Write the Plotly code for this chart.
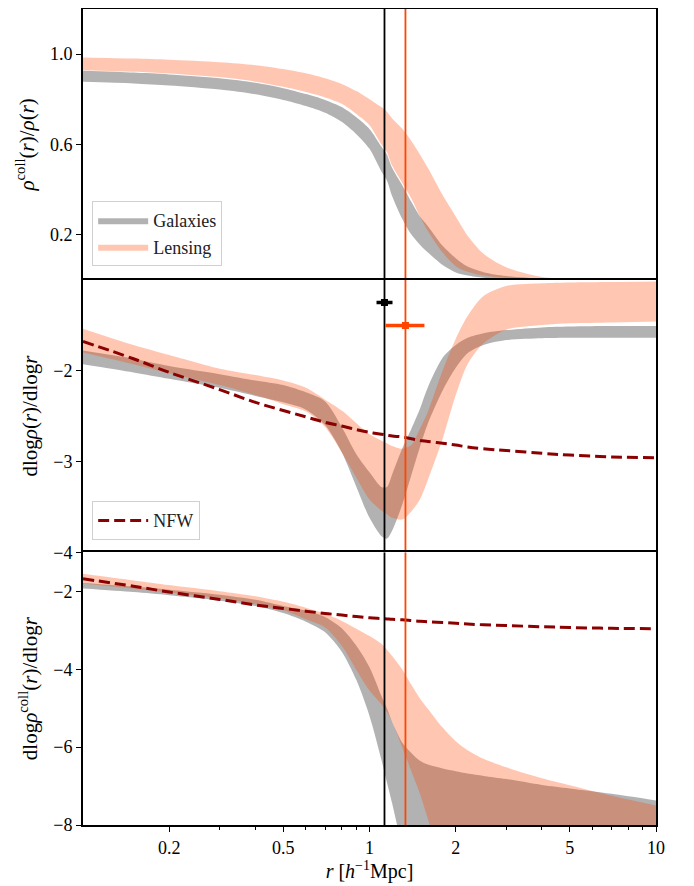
import plotly.graph_objects as go
from plotly.subplots import make_subplots

# radius grid [h^-1 Mpc]
r = [0.1, 0.15, 0.2, 0.3, 0.4, 0.5, 0.6, 0.7, 0.8, 0.9, 1.0, 1.1, 1.15, 1.2, 1.3,
     1.4, 1.5, 1.6, 1.8, 2.0, 2.2, 2.5, 3.0, 4.0, 5.0, 7.0, 10.0]

# Panel 1: rho_coll / rho
frac_gal_lo = [0.877, 0.870, 0.861, 0.843, 0.822, 0.797, 0.770, 0.740, 0.700, 0.645, 0.580, 0.480, 0.440,
               0.370, 0.270, 0.200, 0.155, 0.120, 0.065, 0.032, 0.018, 0.008, 0.002, 0.0, 0.0, 0.0, 0.0]
frac_gal_hi = [0.926, 0.918, 0.910, 0.893, 0.873, 0.849, 0.823, 0.797, 0.765, 0.720, 0.668, 0.590, 0.555,
               0.495, 0.420, 0.345, 0.280, 0.237, 0.150, 0.095, 0.058, 0.033, 0.016, 0.005, 0.002, 0.001, 0.0]
frac_len_lo = [0.929, 0.922, 0.914, 0.898, 0.878, 0.855, 0.832, 0.808, 0.780, 0.735, 0.685, 0.600, 0.565,
               0.505, 0.430, 0.360, 0.280, 0.215, 0.120, 0.060, 0.035, 0.018, 0.007, 0.001, 0.0, 0.0, 0.0]
frac_len_hi = [0.985, 0.980, 0.975, 0.964, 0.951, 0.934, 0.915, 0.893, 0.868, 0.836, 0.800, 0.765, 0.745,
               0.715, 0.670, 0.615, 0.555, 0.495, 0.375, 0.280, 0.195, 0.115, 0.055, 0.012, 0.004, 0.001, 0.0]

# Panel 2: dlog rho / dlog r
slope_gal_lo = [-1.93, -2.02, -2.09, -2.19, -2.28, -2.35, -2.43, -2.60, -2.90, -3.28, -3.62, -3.82, -3.85,
                -3.76, -3.48, -3.15, -2.84, -2.58, -2.22, -1.97, -1.81, -1.72, -1.665, -1.645, -1.64, -1.64, -1.64]
slope_gal_hi = [-1.78, -1.87, -1.95, -2.04, -2.11, -2.16, -2.24, -2.34, -2.62, -2.92, -3.12, -3.28, -3.28,
                -3.14, -2.86, -2.64, -2.42, -2.18, -1.86, -1.72, -1.64, -1.59, -1.555, -1.525, -1.515, -1.51, -1.51]
slope_len_lo = [-1.80, -1.93, -2.03, -2.16, -2.27, -2.37, -2.45, -2.62, -2.90, -3.18, -3.42, -3.54, -3.58,
                -3.62, -3.64, -3.55, -3.42, -3.20, -2.75, -2.27, -1.93, -1.70, -1.55, -1.50, -1.48, -1.47, -1.46]
slope_len_hi = [-1.54, -1.72, -1.83, -1.98, -2.05, -2.11, -2.19, -2.32, -2.44, -2.58, -2.70, -2.77, -2.80,
                -2.83, -2.86, -2.82, -2.64, -2.45, -2.00, -1.65, -1.40, -1.18, -1.07, -1.04, -1.03, -1.025, -1.02]

# Panel 3: dlog rho_coll / dlog r
cslope_gal_lo = [-1.93, -2.02, -2.10, -2.24, -2.38, -2.56, -2.78, -3.05, -3.55, -4.28, -5.20, -6.32, -6.90,
                 -7.45, -8.60, -10, -10, -10, -10, -10, -10, -10, -10, -10, -10, -10, -10]
cslope_gal_hi = [-1.79, -1.88, -1.96, -2.09, -2.22, -2.38, -2.50, -2.66, -2.95, -3.40, -3.95, -4.68, -5.00,
                 -5.35, -5.88, -6.15, -6.35, -6.45, -6.55, -6.62, -6.68, -6.74, -6.82, -6.97, -7.06, -7.20, -7.37]
cslope_len_lo = [-1.80, -1.93, -2.03, -2.18, -2.33, -2.49, -2.72, -2.93, -3.40, -4.02, -4.55, -4.90, -5.10,
                 -5.35, -6.00, -6.62, -7.20, -7.85, -9.00, -10, -10, -10, -10, -10, -10, -10, -10]
cslope_len_hi = [-1.55, -1.72, -1.84, -2.00, -2.13, -2.27, -2.42, -2.58, -2.76, -2.96, -3.15, -3.35, -3.50,
                 -3.66, -4.00, -4.40, -4.75, -5.02, -5.50, -5.85, -6.08, -6.30, -6.52, -6.80, -6.98, -7.25, -7.50]

# NFW slope
nfw_slope = [-1.68, -1.87, -2.02, -2.21, -2.35, -2.44, -2.51, -2.57, -2.61, -2.65, -2.68, -2.70, -2.71,
             -2.72, -2.73, -2.75, -2.77, -2.78, -2.80, -2.82, -2.84, -2.86, -2.88, -2.91, -2.93, -2.95, -2.96]

# splashback estimates
r_sp_gal = 1.128
r_sp_gal_lo = 1.058
r_sp_gal_hi = 1.203
y_sp_gal = -1.25
r_sp_len = 1.335
r_sp_len_lo = 1.137
r_sp_len_hi = 1.555
y_sp_len = -1.505

GRAY = "rgba(0,0,0,0.3)"
SALMON = "rgba(255,69,0,0.3)"
ORANGE = "#ff4500"
FONT = "Liberation Serif"

fig = make_subplots(rows=3, cols=1, shared_xaxes=True, vertical_spacing=0,
                    row_heights=[271, 273, 273])


def band(lo, hi, color, name, row, show):
    fig.add_trace(go.Scatter(x=r, y=lo, mode="lines", line=dict(width=0, shape="spline", smoothing=0.8),
                             showlegend=False, hoverinfo="skip", legendgroup=name), row=row, col=1)
    fig.add_trace(go.Scatter(x=r, y=hi, mode="lines", line=dict(width=0, shape="spline", smoothing=0.8),
                             fill="tonexty", fillcolor=color, name=name, showlegend=show,
                             legendgroup=name, legend="legend"), row=row, col=1)


band(frac_gal_lo, frac_gal_hi, GRAY, "Galaxies", 1, True)
band(frac_len_lo, frac_len_hi, SALMON, "Lensing", 1, True)
band(slope_gal_lo, slope_gal_hi, GRAY, "Galaxies", 2, False)
band(slope_len_lo, slope_len_hi, SALMON, "Lensing", 2, False)
band(cslope_gal_lo, cslope_gal_hi, GRAY, "Galaxies", 3, False)
band(cslope_len_lo, cslope_len_hi, SALMON, "Lensing", 3, False)

for row, show in [(2, True), (3, False)]:
    fig.add_trace(go.Scatter(x=r, y=nfw_slope, mode="lines", name="NFW",
                             line=dict(color="#8b0000", width=3, dash="11px,5px", shape="spline"),
                             showlegend=show, legend="legend2"), row=row, col=1)

yr = {1: [0, 1.2], 2: [-4, -1], 3: [-8, -1]}
for row in (1, 2, 3):
    fig.add_trace(go.Scatter(x=[r_sp_gal, r_sp_gal], y=yr[row], mode="lines",
                             line=dict(color="black", width=1.8), showlegend=False), row=row, col=1)
    fig.add_trace(go.Scatter(x=[r_sp_len, r_sp_len], y=yr[row], mode="lines",
                             line=dict(color=ORANGE, width=1.8), showlegend=False), row=row, col=1)

fig.add_trace(go.Scatter(x=[r_sp_gal], y=[y_sp_gal], mode="markers",
                         marker=dict(color="black", size=7, symbol="square"),
                         error_x=dict(type="data", symmetric=False, array=[r_sp_gal_hi - r_sp_gal],
                                      arrayminus=[r_sp_gal - r_sp_gal_lo], thickness=3.5, width=0, color="black"),
                         showlegend=False), row=2, col=1)
fig.add_trace(go.Scatter(x=[r_sp_len], y=[y_sp_len], mode="markers",
                         marker=dict(color=ORANGE, size=7, symbol="square"),
                         error_x=dict(type="data", symmetric=False, array=[r_sp_len_hi - r_sp_len],
                                      arrayminus=[r_sp_len - r_sp_len_lo], thickness=3.5, width=0, color=ORANGE),
                         showlegend=False), row=2, col=1)

TICKFONT = dict(family=FONT, size=18, color="black")
axis_common = dict(showline=True, linecolor="black", linewidth=2, showgrid=False,
                   zeroline=False, tickfont=TICKFONT)

fig.update_xaxes(type="log", range=[-1, 1], **axis_common)
# inner panel boundaries drawn only once
fig.update_xaxes(side="top", mirror=False, ticks="", showticklabels=False, row=1, col=1)
fig.update_xaxes(side="top", mirror=False, ticks="", showticklabels=False, row=2, col=1)
fig.update_xaxes(mirror=True, ticks="outside", ticklen=5, tickwidth=1.2, tickcolor="black",
                 tickvals=[0.2, 0.5, 1, 2, 5, 10], ticktext=["0.2", "0.5", "1", "2", "5", "10"],
                 minor=dict(tickvals=[0.3, 0.4, 0.6, 0.7, 0.8, 0.9, 3, 4, 6, 7, 8, 9], ticklen=3,
                            ticks="outside", tickcolor="black", tickwidth=1),
                 title=dict(text="<i>r</i> [<i>h</i><sup>−1</sup>Mpc]", font=dict(family=FONT, size=20, color="black"),
                            standoff=4),
                 row=3, col=1)

ytitle_font = dict(family=FONT, size=21, color="black")
ycommon = dict(mirror=True, ticks="outside", ticklen=5, tickwidth=1.2, tickcolor="black", **axis_common)
fig.update_yaxes(range=[0, 1.2], tickvals=[0.2, 0.6, 1.0], ticktext=["0.2", "0.6", "1.0"],
                 title=dict(text="<i>ρ</i><sup>coll</sup>(<i>r</i>)/<i>ρ</i>(<i>r</i>)", font=ytitle_font, standoff=10),
                 row=1, col=1, **ycommon)
fig.update_yaxes(range=[-4, -1], tickvals=[-2, -3, -4], ticktext=["−2", "−3", "−4"],
                 title=dict(text="dlog<i>ρ</i>(<i>r</i>)/dlog<i>r</i>", font=ytitle_font, standoff=10),
                 row=2, col=1, **ycommon)
fig.update_yaxes(range=[-8, -1], tickvals=[-2, -4, -6, -8], ticktext=["−2", "−4", "−6", "−8"],
                 title=dict(text="dlog<i>ρ</i><sup>coll</sup>(<i>r</i>)/dlog<i>r</i>", font=ytitle_font, standoff=10),
                 row=3, col=1, **ycommon)

fig.update_layout(
    width=686, height=878,
    margin=dict(l=75, r=38, t=1, b=61, autoexpand=False),
    paper_bgcolor="white", plot_bgcolor="white",
    font=dict(family=FONT, size=17, color="black"),
    legend=dict(x=0.016, y=0.685, xanchor="left", yanchor="bottom", bgcolor="white",
                bordercolor="#d0d0d0", borderwidth=1, font=dict(family=FONT, size=18, color="#222"),
                itemwidth=50, traceorder="normal", tracegroupgap=6),
    legend2=dict(x=0.016, y=0.349, xanchor="left", yanchor="bottom", bgcolor="white",
                 bordercolor="#d0d0d0", borderwidth=1, font=dict(family=FONT, size=18, color="#222"),
                 itemwidth=50),
)

fig.write_html("out.html")
